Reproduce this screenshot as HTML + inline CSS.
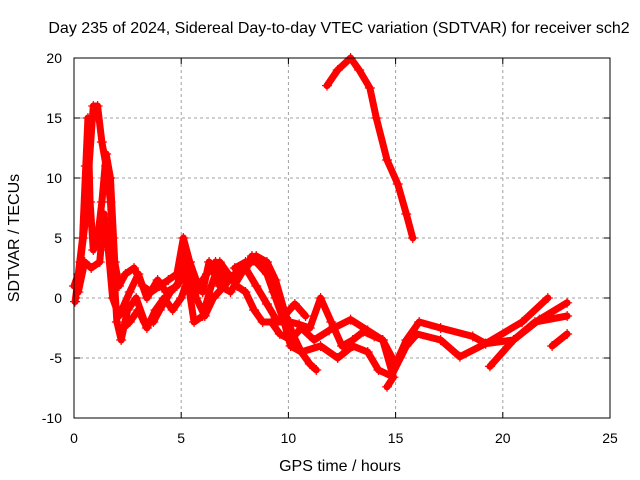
<!DOCTYPE html>
<html><head><meta charset="utf-8"><style>
body{margin:0;background:#fff}
svg{display:block;font-family:"Liberation Sans",sans-serif;font-size:14px}
</style></head><body>
<svg id="chart" width="640" height="480" viewBox="0 0 640 480" xmlns="http://www.w3.org/2000/svg">
<rect width="640" height="480" fill="#fff"/>
<text x="339" y="33" text-anchor="middle" font-size="16">Day 235 of 2024, Sidereal Day-to-day VTEC variation (SDTVAR) for receiver sch2</text>
<g id="grid"></g>
<g id="ticks"></g>
<g id="series"></g>
<rect x="74" y="58" width="536" height="360" fill="none" stroke="#000" stroke-width="1"/>
<text x="340" y="471" text-anchor="middle" font-size="16">GPS time / hours</text>
<text transform="translate(19,238) rotate(-90)" text-anchor="middle" font-size="16">SDTVAR / TECUs</text>
</svg>
<script>
const xTicks=[0,5,10,15,20,25];
const yTicks=[-10,-5,0,5,10,15,20];
const track1=[[0,1],[0.2,2],[0.4,5],[0.55,11],[0.65,15],[0.75,8],[0.9,4],[1.1,5],[1.3,8],[1.5,12],[1.7,10],[1.9,3],[2.1,1],[2.4,2],[2.8,2.5],[3.2,1],[3.6,0.5],[4.0,1],[4.4,1.5],[4.8,2],[5.1,5],[5.4,3],[5.8,1],[6.2,2],[6.6,3],[7.0,1.5],[7.5,2],[8.0,2.5],[8.5,3.5],[9.0,3],[9.4,1.5],[9.8,-1],[10.2,-3],[10.6,-4.5],[11.0,-5.5],[11.3,-6]];
const track2=[[0.05,-0.3],[0.3,3],[0.5,6],[0.9,16],[1.1,16],[1.3,13],[1.5,11],[1.7,8],[1.8,5],[1.9,1],[2.0,-2],[2.2,-3.5],[2.5,-1],[2.9,0],[3.3,-2],[3.7,-2],[4.0,-1],[4.5,0.5],[5.0,1.5],[5.4,3],[5.7,0],[6.1,-1.5],[6.5,0],[7.0,1],[7.5,2],[8.0,2.5],[8.5,1],[9.0,-0.5],[9.5,-2],[10.1,-2],[10.5,-2.2],[11.0,-2.5],[11.5,0],[12.0,-2],[12.5,-4],[13.0,-3.5],[13.5,-2.8],[14.0,-3.2],[14.4,-3.5],[14.9,-6.6],[14.6,-7.4]];
const track3=[[2.3,-2.5],[2.6,-2],[3.0,-1],[3.4,-2.5],[3.8,-1],[4.2,0],[4.6,-1],[5.0,0],[5.3,1.5],[5.6,-2],[6.0,-1.5],[6.4,1],[6.8,3],[7.2,2],[7.6,1],[8.0,0.5],[8.4,-1],[8.8,-2],[9.2,-2],[9.6,-3],[10.1,-3.5],[10.6,-2.5],[11.2,-3.5],[11.9,-2.7],[12.9,-1.8],[13.7,-2.7],[14.4,-3.5],[15.0,-5.5],[15.5,-3.5],[16.1,-2],[17.1,-2.5],[18.6,-3.2],[19.2,-3.8],[20.9,-2],[22.1,0]];
const track4=[[7.5,2.5],[8.0,3],[8.5,3],[9.0,2],[9.4,0],[9.8,-2],[10.1,-4],[10.6,-4.5],[11.5,-4],[12.3,-5],[13.0,-4],[13.7,-4.5],[14.2,-6],[14.8,-6.5],[15.5,-4],[16.0,-3],[17.1,-3.5],[18.0,-4.9],[19.2,-3.8],[20.5,-3.5],[21.5,-2],[23.0,-1.5]];
const track5=[[19.4,-5.7],[20.5,-3.5],[21.7,-1.8],[23.0,-0.4]];
const track6=[[22.3,-4],[23.0,-3]];
const track7=[[11.8,17.7],[12.3,19],[12.9,20],[13.3,19],[13.8,17.5],[14.1,15],[14.6,11.5],[15.1,9.5],[15.5,7],[15.8,5]];
const track8=[[0.2,0.5],[0.5,3],[0.8,2.5],[1.2,3],[1.4,7],[1.6,4],[1.8,0],[2.1,-1.5],[2.6,0.5],[3.0,2],[3.4,0],[3.9,1.5],[4.3,0.5],[4.8,1],[5.2,3.5],[5.5,1],[6.0,0.5],[6.3,3],[6.8,1],[7.3,0.5],[7.8,2],[8.3,3.5],[8.8,3],[9.3,0.5],[9.8,-1.5],[10.3,-0.5],[10.8,-1.5]];
const tracks=[track1,track2,track3,track4,track5,track6,track7,track8];
const NS="http://www.w3.org/2000/svg";
const X=t=>74+t*536/25, Y=v=>298-v*12;
const grid=document.getElementById('grid'), ticks=document.getElementById('ticks'), series=document.getElementById('series');
function mk(tag,attrs,parent){const e=document.createElementNS(NS,tag);for(const k in attrs)e.setAttribute(k,attrs[k]);parent.appendChild(e);return e;}
xTicks.forEach(t=>{
  const x=X(t);
  if(t>0&&t<25){const g=mk('line',{x1:x,x2:x,y1:58,y2:418,stroke:'#a0a0a0','stroke-dasharray':'3,3'},grid);
  
  }
  mk('line',{x1:x,x2:x,y1:418,y2:412,stroke:'#000'},ticks);
  mk('line',{x1:x,x2:x,y1:58,y2:64,stroke:'#000'},ticks);
  const l=mk('text',{x:x,y:443,'text-anchor':'middle'},ticks);l.textContent=t;
  
  
});
yTicks.forEach(v=>{
  const y=Y(v);
  if(v>-10&&v<20){const g=mk('line',{x1:74,x2:610,y1:y,y2:y,stroke:'#a0a0a0','stroke-dasharray':'3,3'},grid);
  
  }
  mk('line',{x1:74,x2:80,y1:y,y2:y,stroke:'#000'},ticks);
  mk('line',{x1:604,x2:610,y1:y,y2:y,stroke:'#000'},ticks);
  const l=mk('text',{x:62,y:y+5,'text-anchor':'end'},ticks);l.textContent=v;
  
  
});
tracks.forEach((tr,i)=>{
  const p=mk('polyline',{points:tr.map(d=>X(d[0])+','+Y(d[1])).join(' '),fill:'none',stroke:'#ff0000','stroke-width':7,'stroke-linejoin':'round','stroke-linecap':'round'},series);
  
  
  tr.forEach(d=>{
    const x=X(d[0]),y=Y(d[1]);
    const m=mk('path',{d:`M${x-5},${y}H${x+5}M${x},${y-5}V${y+5}`,stroke:'#ff0000','stroke-width':1.2},series);
    
    
  });
});
</script>
</body></html>
